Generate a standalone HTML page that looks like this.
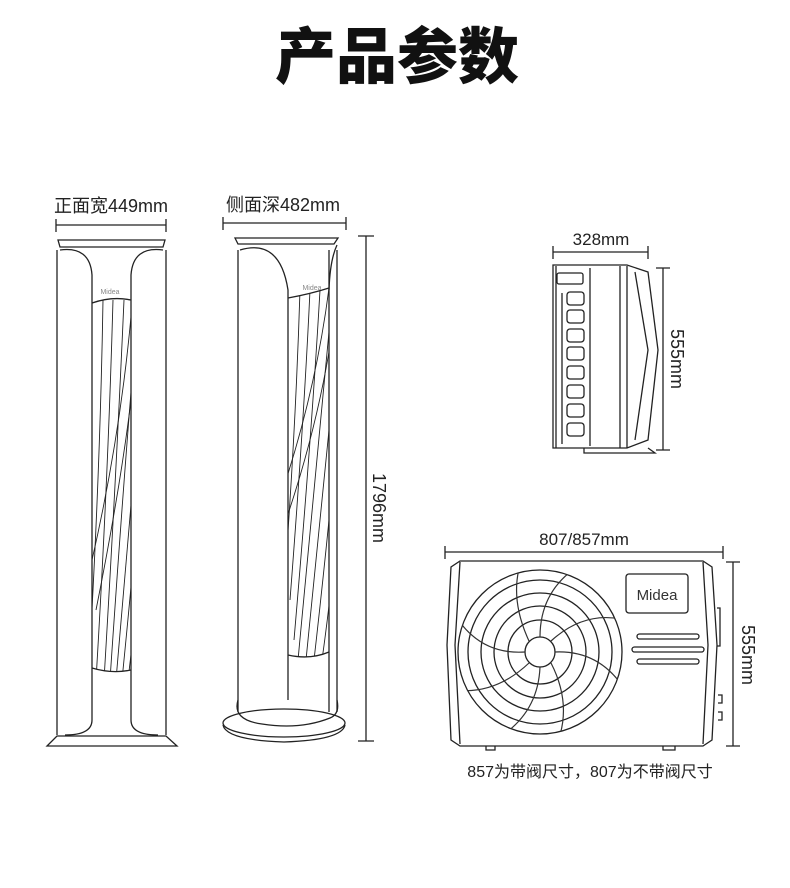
<!DOCTYPE html>
<html><head><meta charset="utf-8"><style>
html,body{margin:0;padding:0;background:#fff;}
svg{display:block;}
text{font-family:"Liberation Sans","Noto Sans CJK SC",sans-serif;fill:#222;}
</style></head><body>
<svg width="790" height="888" viewBox="0 0 790 888" xmlns="http://www.w3.org/2000/svg">
<defs>
<clipPath id="cf"><path d="M92 303 Q112 296 131 300 L131 670 Q112 674 92 668 Z"/></clipPath>
<clipPath id="cs"><path d="M288 298 Q310 294 329 288 L329 652 Q310 660 288 655 Z"/></clipPath>
<clipPath id="fan"><circle cx="540" cy="652" r="82"/></clipPath>
</defs>
<text x="397" y="78" text-anchor="middle" font-size="61" style="fill:#111;font-family:'Noto Sans CJK SC',sans-serif;font-weight:900">产品参数</text>

<g stroke="#222" fill="none" stroke-width="1.3">
<text x="111" y="212" text-anchor="middle" font-size="18" stroke="none">正面宽449mm</text>
<path d="M56 225 H166 M56 219 V232 M166 219 V232"/>
<path d="M58 240 H165 L163 247 H60 Z"/>
<path d="M57 250 V735 M166 250 V735"/>
<path d="M60 250 Q90 246 92 275 V720 Q92 735 65 735"/>
<path d="M163 250 Q133 246 131 275 V720 Q131 735 158 735"/>
<path d="M92 303 Q112 296 131 300"/>
<path d="M92 668 Q112 674 131 670"/>
<path d="M57 736 H166 L177 746 H47 Z"/>
<g clip-path="url(#cf)" stroke-width="0.9">
<path d="M103 300 Q100 480 88 680"/><path d="M113 300 Q108 480 96 680"/><path d="M124 300 Q116 480 104 680"/>
<path d="M136 330 Q122 500 110 680"/><path d="M140 400 Q128 540 116 680"/><path d="M144 440 Q134 560 122 680"/>
<path d="M148 480 Q140 580 128 680"/><path d="M134 280 Q124 420 92 560"/><path d="M138 330 Q130 440 96 610"/>
</g>
<text x="110" y="294" text-anchor="middle" font-size="7" stroke="none" style="fill:#888">Midea</text>

<text x="283" y="211" text-anchor="middle" font-size="18" stroke="none">侧面深482mm</text>
<path d="M223 223 H346 M223 217 V230 M346 217 V230"/>
<path d="M235 238 H338 L334 244 H238 Z"/>
<path d="M238 250 V712 M337 250 V712 M329 250 V712"/>
<path d="M240 250 Q280 238 288 290 V700"/>
<path d="M337 245 Q330 260 329 290"/>
<path d="M288 298 Q310 294 329 288"/>
<path d="M288 655 Q310 660 329 652"/>
<path d="M238 700 Q232 720 262 724 Q300 730 330 718 Q340 714 337 700"/>
<ellipse cx="284" cy="723" rx="61" ry="14"/>
<path d="M223 725 Q226 740 284 742 Q342 740 345 725"/>
<g clip-path="url(#cs)" stroke-width="0.9">
<path d="M300 290 Q296 420 286 560"/><path d="M310 290 Q304 420 290 600"/><path d="M320 290 Q312 430 294 640"/>
<path d="M332 300 Q318 450 298 660"/><path d="M336 360 Q324 480 306 660"/><path d="M340 400 Q330 520 314 660"/>
<path d="M344 440 Q336 560 322 660"/><path d="M330 280 Q318 380 286 480"/><path d="M334 320 Q320 420 286 520"/>
</g>
<text x="312" y="290" text-anchor="middle" font-size="7" stroke="none" style="fill:#888">Midea</text>
<path d="M366 236 V741 M358 236 H374 M358 741 H374"/>
<text x="0" y="0" font-size="18" stroke="none" text-anchor="middle" transform="translate(373 508) rotate(90)">1796mm</text>

<text x="601" y="245" text-anchor="middle" font-size="17" stroke="none">328mm</text>
<path d="M553 252 H648 M553 246 V259 M648 246 V259"/>
<path d="M553 265 H627 L648 272 L658 350 L648 440 L627 448 H553 Z"/>
<path d="M590 268 V446 M620 266 V448 M627 266 V448 M635 272 L648 350 L635 440"/>
<path d="M556 266 V448"/>
<rect x="557" y="273" width="26" height="11" rx="2"/>
<path d="M562 293 V444"/>
<g><rect x="567" y="292" width="17" height="13" rx="3"/><rect x="567" y="310" width="17" height="13" rx="3"/><rect x="567" y="329" width="17" height="13" rx="3"/><rect x="567" y="347" width="17" height="13" rx="3"/><rect x="567" y="366" width="17" height="13" rx="3"/><rect x="567" y="385" width="17" height="13" rx="3"/><rect x="567" y="404" width="17" height="13" rx="3"/><rect x="567" y="423" width="17" height="13" rx="3"/></g>
<path d="M584 448 V453 H655 L648 448"/>
<path d="M663 268 V450 M656 268 H670 M656 450 H670"/>
<text x="0" y="0" font-size="18" stroke="none" text-anchor="middle" transform="translate(671 359) rotate(90)">555mm</text>

<text x="584" y="545" text-anchor="middle" font-size="17" stroke="none">807/857mm</text>
<path d="M445 552 H723 M445 546 V559 M723 546 V559"/>
<path d="M460 561 H703 L712 567 L717 645 L712 740 L703 746 H460 L451 740 L447 645 L451 567 Z"/>
<path d="M460 562 L455 645 L460 744 M703 562 L708 645 L703 744"/>
<path d="M717 608 H720 V646 H717"/>
<path d="M486 746 V750 H495 V746 M663 746 V750 H675 V746"/>
<rect x="626" y="574" width="62" height="39" rx="3"/>
<text x="657" y="600" text-anchor="middle" font-size="15" stroke="none" style="fill:#333">Midea</text>
<rect x="637" y="634" width="62" height="5" rx="2.5"/>
<rect x="632" y="647" width="72" height="5" rx="2.5"/>
<rect x="637" y="659" width="62" height="5" rx="2.5"/>
<path d="M718 695 h4 v8 h-4 M718 712 h4 v8 h-4"/>
<g stroke-width="1.3">
<circle cx="540" cy="652" r="82"/><circle cx="540" cy="652" r="72"/><circle cx="540" cy="652" r="59"/>
<circle cx="540" cy="652" r="46"/><circle cx="540" cy="652" r="32"/><circle cx="540" cy="652" r="15"/>
</g>
<g clip-path="url(#fan)" stroke="#333" stroke-width="1.2">
<path d="M540 637 Q540 590 580 565"/><path d="M555 652 Q600 650 625 690"/><path d="M540 667 Q538 715 495 740"/>
<path d="M525 652 Q480 655 455 615"/><path d="M551 641 Q585 610 625 620"/><path d="M551 663 Q570 700 560 735"/>
<path d="M529 663 Q495 695 455 690"/><path d="M529 641 Q510 600 520 565"/>
</g>
<path d="M733 562 V746 M726 562 H740 M726 746 H740"/>
<text x="0" y="0" font-size="18" stroke="none" text-anchor="middle" transform="translate(742 655) rotate(90)">555mm</text>
<text x="590" y="777" text-anchor="middle" font-size="16" stroke="none">857为带阀尺寸，807为不带阀尺寸</text>
</g>
</svg>
</body></html>
